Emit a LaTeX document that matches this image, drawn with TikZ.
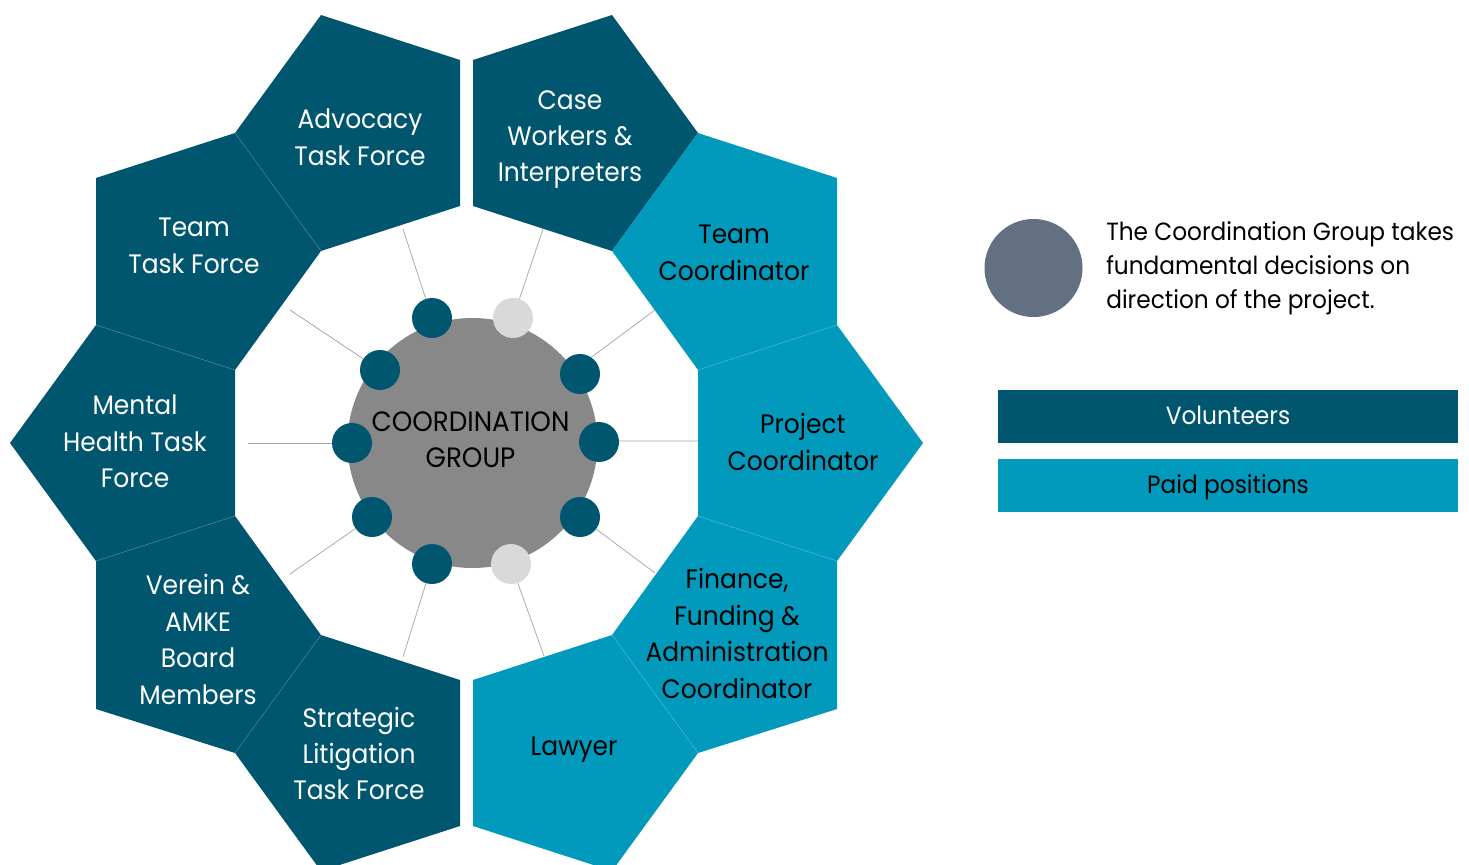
\documentclass[tikz,border=0pt]{standalone}
\usepackage{fontspec}
\setmainfont{Poppins}[FakeStretch=0.935]
\definecolor{deep}{HTML}{00566E}
\definecolor{bright}{HTML}{029ABC}
\definecolor{hub}{HTML}{888888}
\definecolor{pale}{HTML}{D9D9D9}
\definecolor{slatec}{HTML}{627082}
\definecolor{spokec}{HTML}{A6A6A6}
\newcommand{\lstrut}{\rule[-4.8pt]{0pt}{27.3pt}}
\tikzset{
  x=0.75pt,y=-0.75pt,
  lab/.style={align=center,inner sep=0pt,font=\fontsize{20}{27.3}\selectfont,
    execute at begin node=\lstrut,execute at end node=\lstrut},
  onDeep/.style={lab,text=white},
  onBright/.style={lab,text=black},
  dot/.style={circle,inner sep=0pt,minimum size=30pt,fill=#1},
  spoke/.style={draw=spokec,line width=0.55pt},
  seamD/.style={draw=deep!70!white,line width=0.3pt},
  seamB/.style={draw=bright!70!white,line width=0.3pt},
}
\begin{document}
\begin{tikzpicture}
\useasboundingbox (0,0) rectangle (1469,864);
\clip (0,0) rectangle (1469,864);
\fill[white] (0,0) rectangle (1469,864);
% vertices of the ring
\coordinate (a) at (612,251);
\coordinate (b) at (698,133);
\coordinate (c) at (698,370);
\coordinate (d) at (837,325);
\coordinate (e) at (698,516);
\coordinate (f) at (837,561);
\coordinate (g) at (612,635);
\coordinate (h) at (698,753);
\coordinate (A) at (321,251);
\coordinate (B) at (235,133);
\coordinate (C) at (235,370);
\coordinate (D) at (96,325);
\coordinate (E) at (235,516);
\coordinate (F) at (96,561);
\coordinate (G) at (321,635);
\coordinate (H) at (235,753);
% pentagons
\fill[deep] (473,60) -- (612,15) -- (b) -- (a) -- (473,206) -- cycle;
\fill[bright] (b) -- (837,178) -- (d) -- (c) -- (a) -- cycle;
\fill[bright] (c) -- (d) -- (923,443) -- (f) -- (e) -- cycle;
\fill[bright] (e) -- (f) -- (837,709) -- (h) -- (g) -- cycle;
\fill[bright] (473,680) -- (g) -- (h) -- (612,871) -- (473,826) -- cycle;
\fill[deep] (460,680) -- (G) -- (H) -- (321,871) -- (460,826) -- cycle;
\fill[deep] (E) -- (F) -- (96,709) -- (H) -- (G) -- cycle;
\fill[deep] (C) -- (D) -- (10,443) -- (F) -- (E) -- cycle;
\fill[deep] (B) -- (96,178) -- (D) -- (C) -- (A) -- cycle;
\fill[deep] (460,60) -- (321,15) -- (B) -- (A) -- (460,206) -- cycle;
% seams
\path[seamD] (A) -- (B) (C) -- (D) (E) -- (F) (G) -- (H);
\path[seamB] (c) -- (d) (e) -- (f) (g) -- (h);
% spoke ends
\coordinate (s1) at (403,229);
\coordinate (s2) at (543,229);
\coordinate (s3) at (655,310);
\coordinate (s4) at (698,441);
\coordinate (s5) at (655,573);
\coordinate (s6) at (544,656);
\coordinate (s7) at (403,657);
\coordinate (s8) at (290,574);
\coordinate (s9) at (248,443);
\coordinate (s10) at (290,310);
% hub
\node[circle,inner sep=0pt,minimum size=187.5pt,fill=hub] (hubc) at (472.5,443) {};
\node[lab,text=black,font=\fontsize{21}{27.3}\selectfont] (hubt) at (470.5,443) {COORDINATION\\GROUP};
% dots
\node[dot=deep] (d1) at (432,318) {};
\node[dot=pale] (d2) at (513,318) {};
\node[dot=deep] (d3) at (580,374) {};
\node[dot=deep] (d4) at (599,442) {};
\node[dot=deep] (d5) at (580,517) {};
\node[dot=pale] (d6) at (511,564) {};
\node[dot=deep] (d7) at (432,564) {};
\node[dot=deep] (d8) at (372,517) {};
\node[dot=deep] (d9) at (352,443) {};
\node[dot=deep] (d10) at (380,370) {};
% spokes
\draw[spoke] (d1) -- (s1);
\draw[spoke] (d2) -- (s2);
\draw[spoke] (d3.56) -- (s3);
\draw[spoke] (d4.3) -- (s4);
\draw[spoke] (d5) -- (s5);
\draw[spoke] (d6) -- (s6);
\draw[spoke] (d7) -- (s7);
\draw[spoke] (d8) -- (s8);
\draw[spoke] (d9) -- (s9);
\draw[spoke] (d10) -- (s10);
% labels
\node[onDeep] (t1) at (570,139.5) {Case\\Workers \&\\Interpreters};
\node[onBright] (t2) at (734,256) {Team\\Coordinator};
\node[onBright] (t3) at (803,445) {Project\\Coordinator};
\node[onBright] (t4) at (737,636.5) {Finance,\\Funding \&\\Administration\\Coordinator};
\node[onBright] (t5) at (574,743.5) {Lawyer};
\node[onDeep] (t6) at (359,756.5) {Strategic\\Litigation\\Task Force};
\node[onDeep] (t7) at (198,642.5) {Verein \&\\AMKE\\Board\\Members};
\node[onDeep] (t8) at (135,444.5) {Mental\\Health Task\\Force};
\node[onDeep] (t9) at (194,249) {Team\\Task Force};
\node[onDeep] (t10) at (360,140.5) {Advocacy\\Task Force};
% legend
\node[circle,inner sep=0pt,minimum size=73.5pt,fill=slatec] (lc) at (1033.5,268) {};
\node[anchor=west,align=left,inner sep=0pt,text=black,font=\fontsize{18.65}{25.5}\selectfont] (lt) at (1106,268) {The Coordination Group takes\\fundamental decisions on\\direction of the project.};
\node[rectangle,fill=deep,minimum width=345pt,minimum height=39.75pt,inner sep=0pt] (k1) at (1228,416.5) {};
\node[onDeep,font=\fontsize{18.7}{27.3}\selectfont] (k1t) at (1228,413) {Volunteers};
\node[rectangle,fill=bright,minimum width=345pt,minimum height=39.75pt,inner sep=0pt] (k2) at (1228,485.5) {};
\node[onBright,font=\fontsize{18.7}{27.3}\selectfont] (k2t) at (1228,482) {Paid positions};
\end{tikzpicture}
\end{document}
